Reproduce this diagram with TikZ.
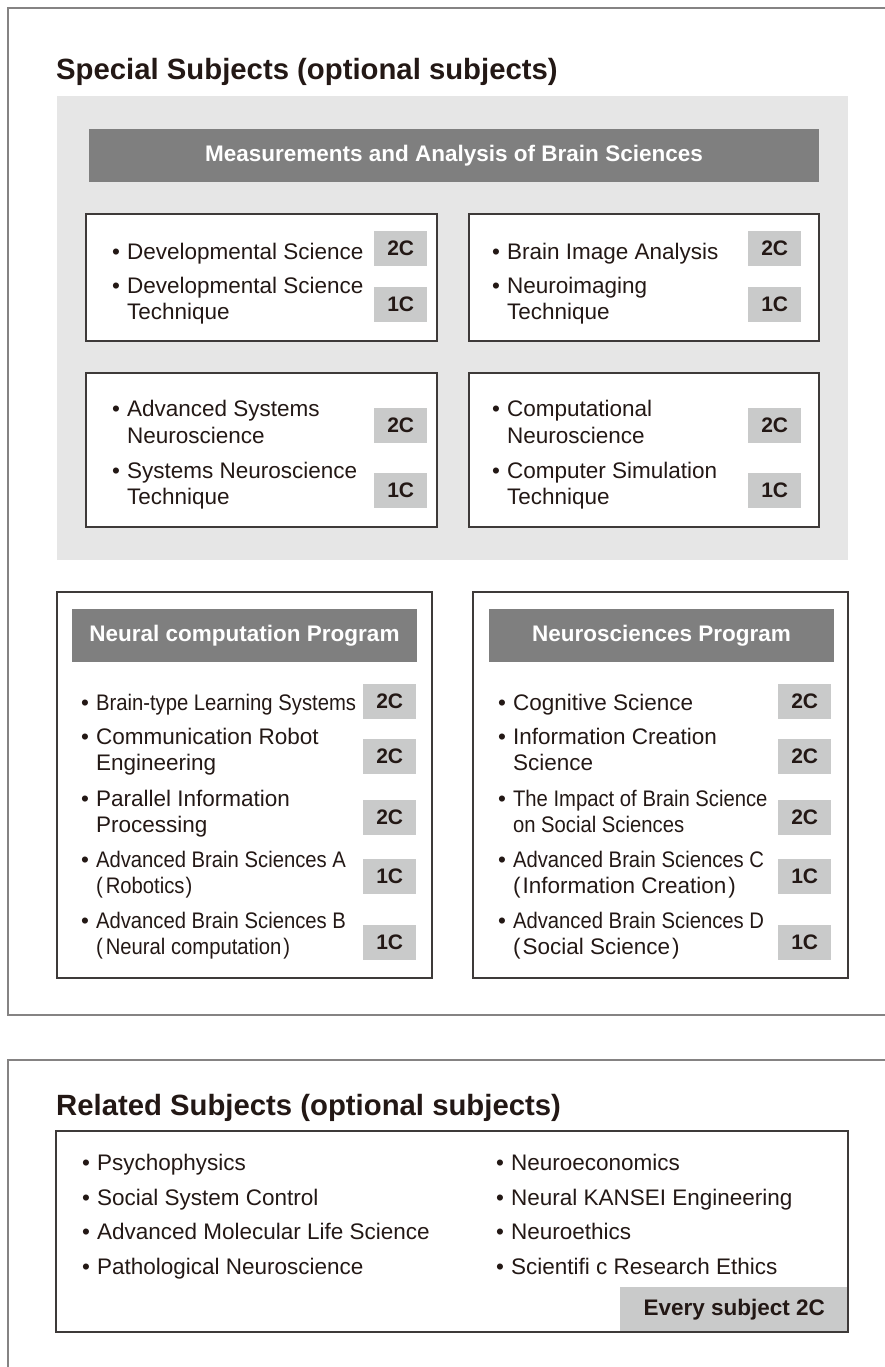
\documentclass[tikz,border=0pt]{standalone}
\usepackage{fontspec}
\setmainfont{Liberation Sans}
\newfontfamily\narrowfont[FakeStretch=0.9]{Liberation Sans}
\usepackage{xcolor}
\usetikzlibrary{positioning}

\definecolor{framegray}{HTML}{858383}
\definecolor{bggray}{HTML}{E6E6E6}
\definecolor{headgray}{HTML}{7F7F7F}
\definecolor{badgegray}{HTML}{C9CACA}
\definecolor{ink}{HTML}{231815}
\definecolor{boxline}{HTML}{3E3A39}

% bullet item, continuation lines start with \\&
\newcommand\itm[1]{\begin{tabular}[t]{@{}l@{\hspace{7pt}}l@{}}\textbullet & #1\end{tabular}}

\tikzset{
  frame/.style={draw=framegray, line width=1.6pt},
  box/.style={draw=boxline, line width=1.2pt},
  title/.style={anchor=base west, inner sep=0pt, text=ink, font=\bfseries\fontsize{29.3}{32}\selectfont},
  head/.style={fill=headgray, text=white, inner sep=0pt, minimum height=53pt, font=\bfseries\fontsize{22.5}{24}\selectfont},
  item/.style={anchor=base west, inner sep=0pt, text=ink, font=\fontsize{22.5}{26.5}\selectfont},
  badge/.style={anchor=north west, fill=badgegray, text=ink, inner sep=0pt, minimum width=53pt, minimum height=35pt, font=\bfseries\fontsize{21}{22}\selectfont}
}

\begin{document}
\begin{tikzpicture}[x=1pt, y=-1pt]
        \useasboundingbox (0,0) rectangle (885,1367);

        % Cornici
        \draw[frame] (885,8) -- (8,8) -- (8,1015) -- (885,1015);
        \draw[frame] (885,1060) -- (8,1060) -- (8,1367);

        % Special subjects
        \node[title] (special) at (56,80) {Special Subjects (optional subjects)};
        \fill[bggray] (57,96) rectangle (848,560);
        \node[head, minimum width=730pt] (meas) at (454,155.5) {Measurements and Analysis of Brain Sciences};

        % Box 1
        \draw[box, fill=white] (86,214) rectangle (437,341);
        \node[item] (dev) at (112,259.3) {\itm{Developmental Science}};
        \node[item] (devtech) at (112,293.3) {\itm{Developmental Science\\&Technique}};
        \node[badge] (dev-c) at (374,231) {2C};
        \node[badge] (devtech-c) at (374,287) {1C};

        % Box 2
        \draw[box, fill=white] (469,214) rectangle (819,341);
        \node[item] (brainimg) at (492,259.3) {\itm{Brain Image Analysis}};
        \node[item] (neuroimg) at (492,293.3) {\itm{Neuroimaging\\&Technique}};
        \node[badge] (brainimg-c) at (748,231) {2C};
        \node[badge] (neuroimg-c) at (748,287) {1C};

        % Box 3
        \draw[box, fill=white] (86,373) rectangle (437,527);
        \node[item] (advsys) at (112,416.7) {\itm{Advanced Systems\\&Neuroscience}};
        \node[item] (systech) at (112,478.3) {\itm{Systems Neuroscience\\&Technique}};
        \node[badge] (advsys-c) at (374,408) {2C};
        \node[badge] (systech-c) at (374,473) {1C};

        % Box 4
        \draw[box, fill=white] (469,373) rectangle (819,527);
        \node[item] (compneuro) at (492,416.7) {\itm{Computational\\&Neuroscience}};
        \node[item] (compsim) at (492,478.3) {\itm{Computer Simulation\\&Technique}};
        \node[badge] (compneuro-c) at (748,408) {2C};
        \node[badge] (compsim-c) at (748,473) {1C};

        % Neural computation Program
        \draw[box] (57,592) rectangle (432,978);
        \node[head, minimum width=345pt] (ncp) at (244.5,635.5) {Neural computation Program};
        \node[item] (btl) at (81,710.7) {\itm{{\narrowfont Brain-type Learning Systems}}};
        \node[item] (cre) at (81,744) {\itm{Communication Robot\\&Engineering}};
        \node[item] (pip) at (81,806) {\itm{Parallel Information\\&Processing}};
        \node[item] (absa) at (81,867.3) {\itm{{\narrowfont Advanced Brain Sciences A}\\&{\narrowfont(\kern3pt Robotics\kern1pt)}}};
        \node[item] (absb) at (81,928.3) {\itm{{\narrowfont Advanced Brain Sciences B}\\&{\narrowfont(\kern3pt Neural computation\kern2pt)}}};
        \node[badge] (btl-c) at (363,684) {2C};
        \node[badge] (cre-c) at (363,739) {2C};
        \node[badge] (pip-c) at (363,800) {2C};
        \node[badge] (absa-c) at (363,859) {1C};
        \node[badge] (absb-c) at (363,925) {1C};

        % Neurosciences Program
        \draw[box] (473,592) rectangle (848,978);
        \node[head, minimum width=345pt] (nsp) at (661.5,635.5) {Neurosciences Program};
        \node[item] (cog) at (498,710.7) {\itm{Cognitive Science}};
        \node[item] (ics) at (498,744) {\itm{Information Creation\\&Science}};
        \node[item] (impact) at (498,806) {\itm{{\narrowfont The Impact of Brain Science}\\&{\narrowfont on Social Sciences}}};
        \node[item] (absc) at (498,867.3) {\itm{{\narrowfont Advanced Brain Sciences C}\\&(\kern2pt Information Creation\kern2pt)}};
        \node[item] (absd) at (498,928.3) {\itm{{\narrowfont Advanced Brain Sciences D}\\&(\kern2pt Social Science\kern2pt)}};
        \node[badge] (cog-c) at (778,684) {2C};
        \node[badge] (ics-c) at (778,739) {2C};
        \node[badge] (impact-c) at (778,800) {2C};
        \node[badge] (absc-c) at (778,859) {1C};
        \node[badge] (absd-c) at (778,925) {1C};

        % Related subjects
        \node[title] (related) at (56,1115) {Related Subjects (optional subjects)};
        \node[badge, minimum width=228pt, minimum height=45pt, font=\bfseries\fontsize{22.5}{24}\selectfont] (every) at (620,1287) {Every subject 2C};
        \draw[box] (56,1131) rectangle (848,1332);
        \node[item] (psy) at (82,1170) {\itm{Psychophysics}};
        \node[item] (ssc) at (82,1205) {\itm{Social System Control}};
        \node[item] (amls) at (82,1239) {\itm{Advanced Molecular Life Science}};
        \node[item] (pat) at (82,1274) {\itm{Pathological Neuroscience}};
        \node[item] (neco) at (496,1170) {\itm{Neuroeconomics}};
        \node[item] (kansei) at (496,1205) {\itm{Neural KANSEI Engineering}};
        \node[item] (neth) at (496,1239) {\itm{Neuroethics}};
        \node[item] (sre) at (496,1274) {\itm{Scientifi c Research Ethics}};
    \end{tikzpicture}
\end{document}
